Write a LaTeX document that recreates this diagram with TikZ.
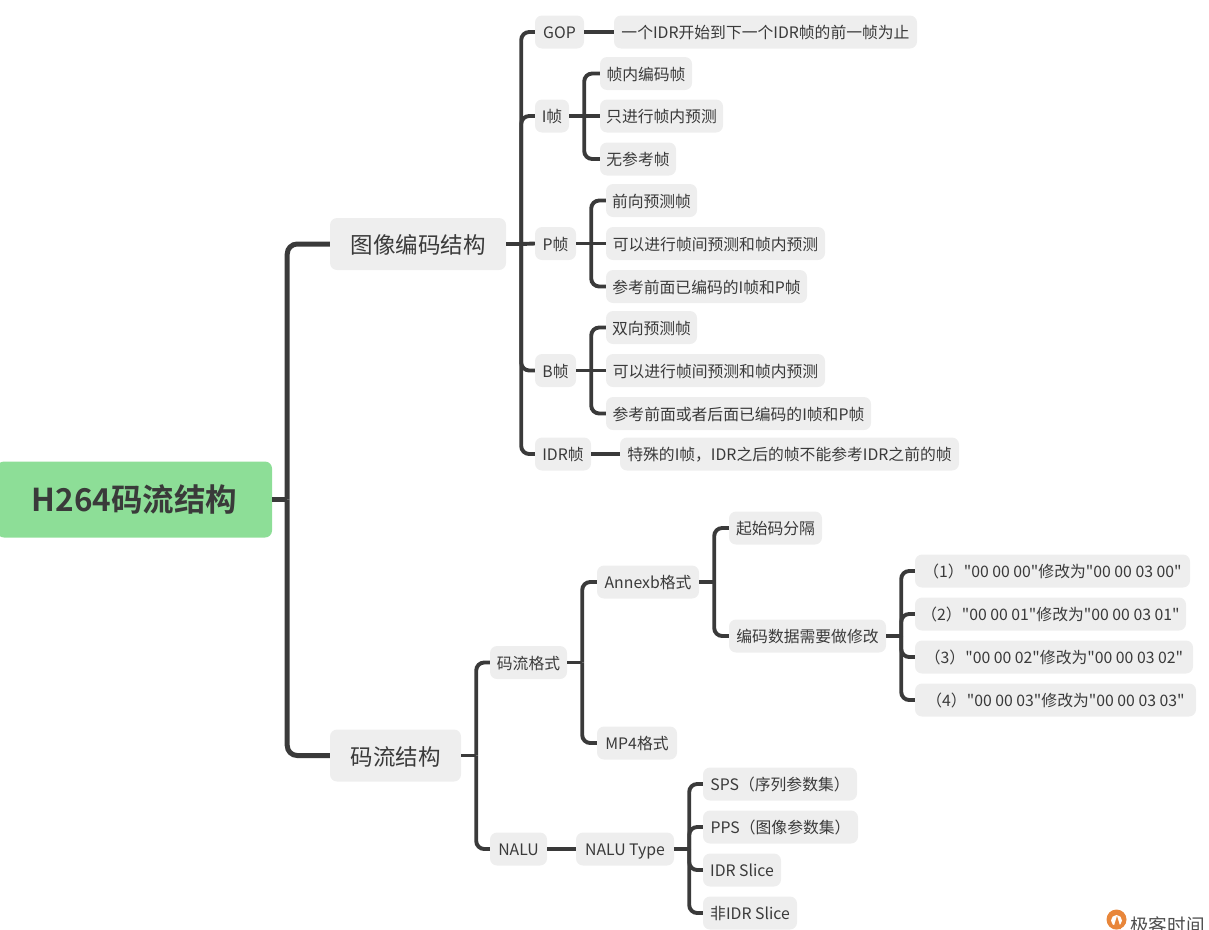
\documentclass[tikz,border=0pt]{standalone}
\usepackage{fontspec}
\newfontfamily\plaincjk{Noto Sans CJK SC}
\newfontfamily\boldcjk{Noto Sans CJK SC Bold}
\setmainfont{Noto Sans CJK SC}
\definecolor{ink}{HTML}{3A3A3A}
\definecolor{boxgray}{HTML}{EEEEEE}
\definecolor{rootgreen}{HTML}{8DDE97}
\definecolor{logoorange}{HTML}{E8863A}
\tikzset{
  leaf/.style={fill=boxgray,rounded corners=7pt,minimum height=33pt,inner sep=0pt,text=ink,text height=13pt,text depth=0pt,font=\fontsize{15.8}{18}\plaincjk},
  major/.style={fill=boxgray,rounded corners=7pt,minimum height=52pt,inner sep=0pt,text=ink,text height=19pt,text depth=0pt,font=\fontsize{22.5}{26}\plaincjk},
  rootbox/.style={fill=rootgreen,rounded corners=7pt,minimum height=76pt,inner sep=0pt,text=ink,text height=24pt,text depth=1pt,font=\fontsize{31.5}{36}\boldcjk},
  conn/.style={draw=ink,line width=3.9pt,rounded corners=8pt,line cap=butt},
  mainconn/.style={draw=ink,line width=5pt,rounded corners=10pt,line cap=butt},
}
\newcommand{\bx}[6][leaf]{\node[#1,minimum width={#4-#3}] (#2) at ({(#3+#4)/2},#5) {#6};}
\newcommand{\branch}[3]{%
  \draw[conn] (#1.east) -- ++(#2,0) coordinate (bus);
  \foreach \c in {#3} \draw[conn] (bus) |- (\c.west);}
\begin{document}
\begin{tikzpicture}[x=1pt,y=-1pt]
\useasboundingbox (0,0) rectangle (1209,929);
\clip (0,0) rectangle (1209,929);
\bx[rootbox]{root}{-3}{272}{499.5}{H264码流结构}
\bx[major]{img}{330}{506}{244}{图像编码结构}
\bx[major]{str}{330}{461}{755.5}{码流结构}
\bx{gop}{535}{584}{32}{GOP}
\bx{gopd}{614}{917}{32}{一个IDR开始到下一个IDR帧的前一帧为止}
\bx{ifr}{535}{569}{116}{I帧}
\bx{ia}{600}{692}{73.5}{帧内编码帧}
\bx{ib}{600}{723}{116}{只进行帧内预测}
\bx{ic}{600}{676}{159}{无参考帧}
\bx{pfr}{535}{576}{243.5}{P帧}
\bx{pa}{606}{697}{200.5}{前向预测帧}
\bx{pb}{606}{825}{243.5}{可以进行帧间预测和帧内预测}
\bx{pc}{606}{807}{286.5}{参考前面已编码的I帧和P帧}
\bx{bfr}{535}{576}{370.5}{B帧}
\bx{ba}{606}{697}{327.5}{双向预测帧}
\bx{bb}{606}{825}{370.5}{可以进行帧间预测和帧内预测}
\bx{bc}{606}{871}{413.5}{参考前面或者后面已编码的I帧和P帧}
\bx{idr}{535}{591}{454}{IDR帧}
\bx{idrd}{620}{959}{454}{特殊的I帧，IDR之后的帧不能参考IDR之前的帧}
\bx{fmt}{490}{567}{662.5}{码流格式}
\bx{anx}{597}{699}{582}{Annexb格式}
\bx{mp}{597}{677}{743}{MP4格式}
\bx{sc}{729}{822}{528}{起始码分隔}
\bx{mod}{729}{886}{636}{编码数据需要做修改}
\bx{m1}{915}{1190}{571}{（1）"00 00 00"修改为"00 00 03 00"}
\bx{m2}{915}{1186}{614}{（2）"00 00 01"修改为"00 00 03 01"}
\bx{m3}{915}{1193}{657}{（3）"00 00 02"修改为"00 00 03 02"}
\bx{m4}{915}{1196}{700}{（4）"00 00 03"修改为"00 00 03 03"}
\bx{nalu}{490}{547}{849}{NALU}
\bx{ntype}{576}{674}{849}{NALU Type}
\bx{sps}{703}{857}{784}{SPS（序列参数集）}
\bx{pps}{703}{858}{827}{PPS（图像参数集）}
\bx{slice}{703}{781}{870}{IDR Slice}
\bx{nslice}{703}{797}{913}{非IDR Slice}
% connectors
\draw[mainconn] (root.east) -- ++(15,0) coordinate (rootbus);
\foreach \c in {img,str} \draw[mainconn] (rootbus) |- (\c.west);
\branch{img}{15}{gop,ifr,bfr,idr}
\draw[conn] (bus) -- (pfr.west);
\draw[conn] (gop.east) -- (gopd.west);
\branch{ifr}{15}{ia,ic}
\draw[conn] (bus) -- (ib.west);
\branch{pfr}{15}{pa,pc}
\draw[conn] (bus) -- (pb.west);
\branch{bfr}{15}{ba,bc}
\draw[conn] (bus) -- (bb.west);
\draw[conn] (idr.east) -- (idrd.west);
\branch{str}{15}{fmt,nalu}
\branch{fmt}{15}{anx,mp}
\branch{anx}{15}{sc,mod}
\branch{mod}{15}{m1,m2,m3,m4}
\draw[conn] (nalu.east) -- (ntype.west);
\branch{ntype}{15}{sps,pps,slice,nslice}
% watermark
\fill[logoorange] (1116.5,919.5) circle[radius=10];
\fill[white] (1116.5,920.5) circle[radius=5.5];
\fill[logoorange] (1113,929) -- (1117,916) -- (1121,929) -- cycle;
\node[anchor=west,inner sep=0pt,text=ink!90,font=\fontsize{18.6}{22}\plaincjk] (mark) at (1130,925) {极客时间};
\end{tikzpicture}
\end{document}
